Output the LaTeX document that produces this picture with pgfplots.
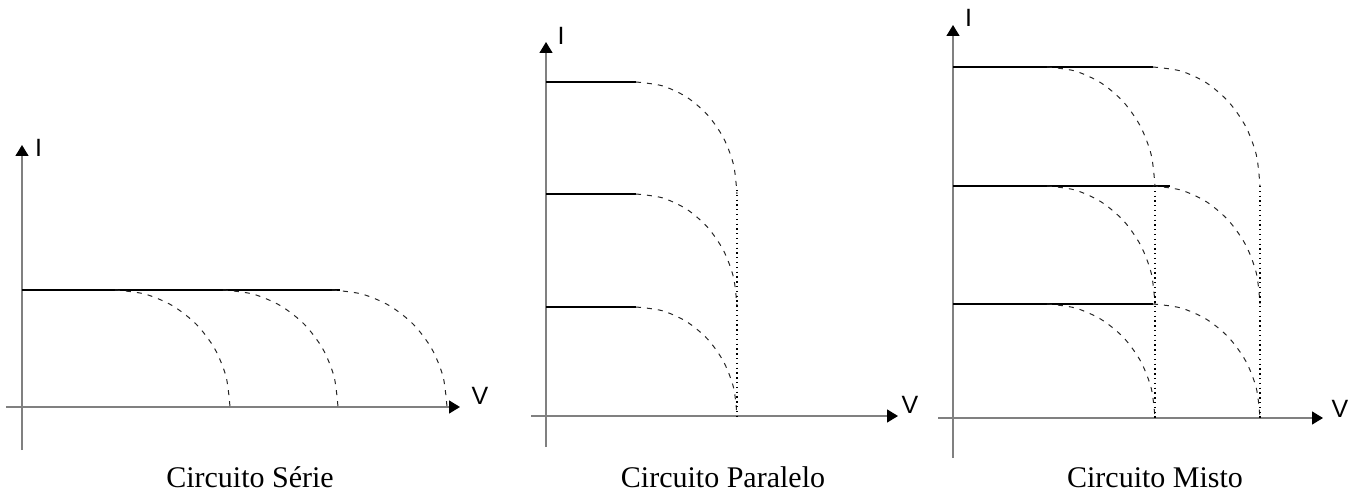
\documentclass[border=0pt]{standalone}
\usepackage{pgfplots}
\pgfplotsset{compat=1.18}
\usepackage{fontspec}
\setmainfont{Liberation Serif}
\newfontfamily\arial{Liberation Sans}
\usetikzlibrary{arrows.meta}
\pgfplotsset{
  panel/.style={
    x=1pt, y=1pt, anchor=origin, axis lines=middle, enlargelimits=false,
    xtick=\empty, ytick=\empty, clip=false,
    axis line style={draw=black!50, line width=1.4pt,
      -{Triangle[length=11pt,width=13pt,color=black]}},
  },
}
\tikzset{
  mySol/.style={black, line width=1.2pt, mark=none},
  myDsh/.style={black!85, line width=1pt, dash pattern=on 5pt off 6pt, smooth, mark=none},
  myDot/.style={black, line width=1.3pt, dash pattern=on 1.3pt off 3.5pt, mark=none},
  myLab/.style={font=\arial\fontsize{25}{25}\selectfont, anchor=base, inner sep=0pt},
  myCap/.style={font=\fontsize{30}{36}\selectfont, anchor=base, inner sep=0pt},
}
\begin{document}
\begin{tikzpicture}
\useasboundingbox (0,0) rectangle (1351pt,493pt);
% ---------------- Circuito Serie ----------------
\begin{axis}[panel, at={(22pt,86pt)}, xmin=-16, xmax=438, ymin=-43, ymax=262]
\addplot[mySol] coordinates {(0,117) (318,117)};
\addplot[myDsh] coordinates {(93,117) (122.8,113.0) (150.5,101.3) (174.3,82.7) (192.6,58.5) (204.1,30.3) (208,0)};
\addplot[myDsh] coordinates {(201,117) (230.8,113.0) (258.5,101.3) (282.3,82.7) (300.6,58.5) (312.1,30.3) (316,0)};
\addplot[myDsh] coordinates {(310,117) (339.8,113.0) (367.5,101.3) (391.3,82.7) (409.6,58.5) (421.1,30.3) (425,0)};
\node[myLab] at (axis cs:16.5,250) {I};
\node[myLab] at (axis cs:458,3) {V};
\node[myCap] at (axis cs:228,-80) {Circuito Série};
\end{axis}
% ---------------- Circuito Paralelo ----------------
\begin{axis}[panel, at={(546pt,77pt)}, xmin=-15, xmax=352, ymin=-31, ymax=374]
\addplot[mySol] coordinates {(0,334) (90,334)};
\addplot[mySol] coordinates {(0,222) (90,222)};
\addplot[mySol] coordinates {(0,109) (90,109)};
\addplot[myDsh] coordinates {(90,334) (116.2,330.2) (140.5,319.0) (161.4,301.2) (177.5,278) (187.6,251.0) (191,222)};
\addplot[myDsh] coordinates {(90,222) (116.2,218.2) (140.5,206.9) (161.4,188.9) (177.5,165.5) (187.6,138.3) (191,109)};
\addplot[myDsh] coordinates {(90,109) (116.2,105.3) (140.5,94.4) (161.4,77.1) (177.5,54.5) (187.6,28.2) (191,0)};
\addplot[myDot] coordinates {(191,226) (191,0)};
\node[myLab] at (axis cs:15,371) {I};
\node[myLab] at (axis cs:364,3) {V};
\node[myCap] at (axis cs:177,-71) {Circuito Paralelo};
\end{axis}
% ---------------- Circuito Misto ----------------
\begin{axis}[panel, at={(953pt,75pt)}, xmin=-15, xmax=370, ymin=-40, ymax=393]
\addplot[mySol] coordinates {(0,351) (200,351)};
\addplot[mySol] coordinates {(0,232) (217,232)};
\addplot[mySol] coordinates {(0,114) (200,114)};
\addplot[myDsh] coordinates {(94,351) (122,347.0) (148,335.1) (170.4,316.1) (187.5,291.5) (198.3,262.8) (202,232)};
\addplot[myDsh] coordinates {(94,232) (122,228.0) (148,216.2) (170.4,197.4) (187.5,173) (198.3,144.6) (202,114)};
\addplot[myDsh] coordinates {(94,114) (122,110.1) (148,98.7) (170.4,80.6) (187.5,57) (198.3,29.5) (202,0)};
\addplot[myDsh] coordinates {(200,351) (227.7,347.0) (253.5,335.1) (275.6,316.1) (292.7,291.5) (303.4,262.8) (307,232)};
\addplot[myDsh] coordinates {(200,232) (227.7,228.0) (253.5,216.2) (275.6,197.4) (292.7,173) (303.4,144.6) (307,114)};
\addplot[myDsh] coordinates {(200,114) (227.7,110.1) (253.5,98.7) (275.6,80.6) (292.7,57) (303.4,29.5) (307,0)};
\addplot[myDot] coordinates {(202,232) (202,0)};
\addplot[myDot] coordinates {(307,232) (307,0)};
\node[myLab] at (axis cs:15.5,391) {I};
\node[myLab] at (axis cs:387,1) {V};
\node[myCap] at (axis cs:202,-69) {Circuito Misto};
\end{axis}
\end{tikzpicture}
\end{document}
